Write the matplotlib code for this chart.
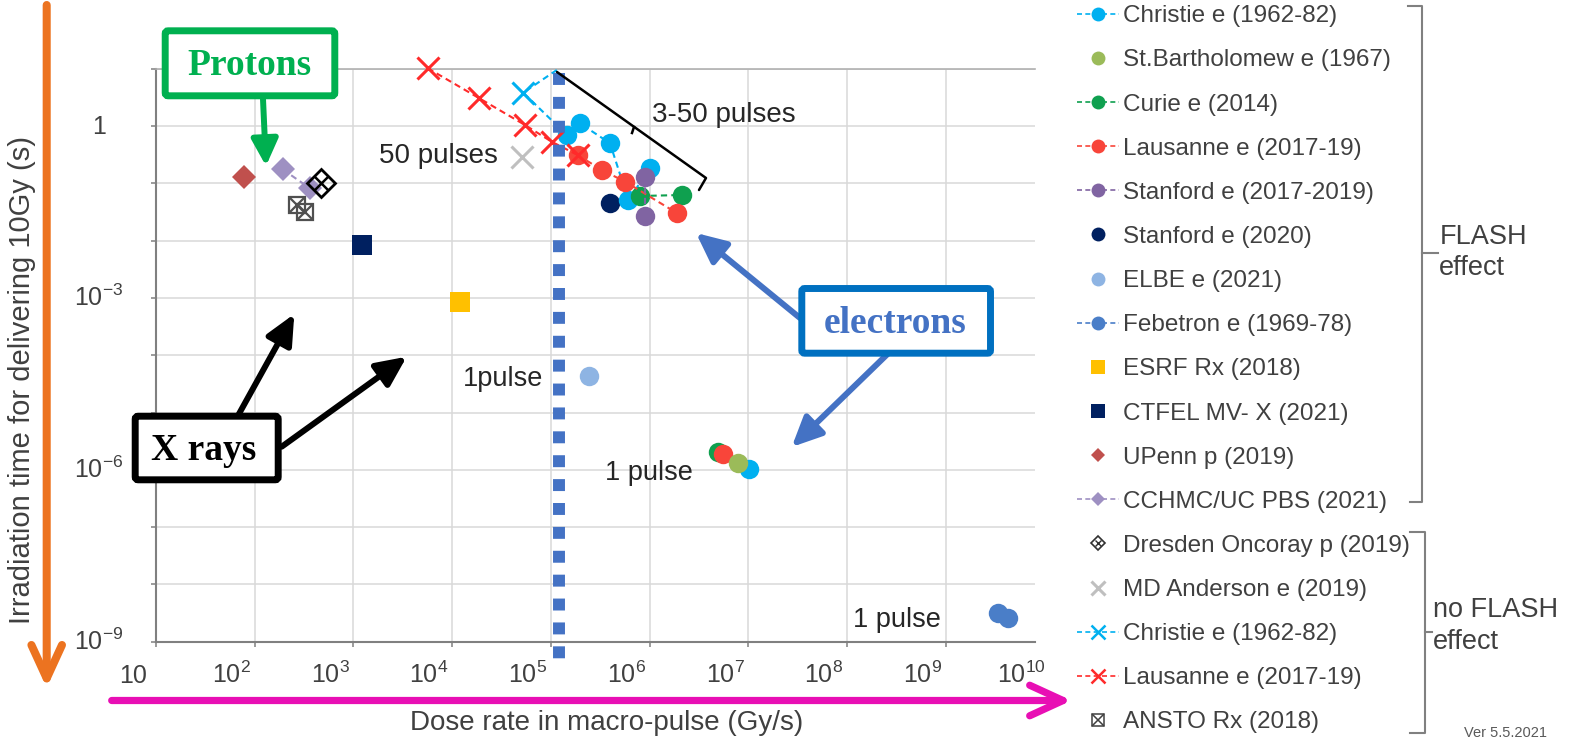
import matplotlib
matplotlib.use('Agg')
import matplotlib.pyplot as plt
from matplotlib.lines import Line2D
from matplotlib.patches import FancyBboxPatch
from matplotlib.ticker import NullLocator
from matplotlib.transforms import ScaledTranslation, blended_transform_factory

plt.rcParams['font.family'] = ['Liberation Sans', 'DejaVu Sans']
plt.rcParams['mathtext.default'] = 'regular'

# ---------------- data ----------------
christie_x = [1.45e5, 1.98e5, 3.98e5, 6.1e5, 1.01e6]
christie_y = [0.70, 1.11, 0.50, 0.051, 0.183]
christie_1p_x = [1.03e7]
christie_1p_y = [1.02e-6]
stbart_x = [7.94e6]
stbart_y = [1.33e-6]
curie_x = [8.02e5, 2.12e6]
curie_y = [0.060, 0.0625]
curie_1p_x = [4.98e6]
curie_1p_y = [2.07e-6]
lausanne_x = [1.87e5, 3.28e5, 5.65e5, 1.89e6]
lausanne_y = [0.312, 0.171, 0.107, 0.0303]
lausanne_1p_x = [5.52e6]
lausanne_1p_y = [1.89e-6]
stanford_x = [9.0e5, 9.0e5]
stanford_y = [0.127, 0.0269]
stanford20_x = [3.98e5]
stanford20_y = [0.0458]
elbe_x = [2.45e5]
elbe_y = [4.34e-5]
febetron_x = [3.42e9, 4.32e9]
febetron_y = [3.13e-9, 2.56e-9]
esrf_x = [1.2e4]
esrf_y = [8.59e-4]
ctfel_x = [1230]
ctfel_y = [8.38e-3]
upenn_x = [78.5]
upenn_y = [0.130]
cchmc_x = [192, 363]
cchmc_y = [0.175, 0.0818]
dresden_x = [470]
dresden_y = [0.102]
mda_x = [5.07e4]
mda_y = [0.291]
christie_nf_x = [1.15e5, 5.26e4, 1.45e5]
christie_nf_y = [9.5, 3.81, 0.70]
lausanne_nf_x = [5.66e3, 1.89e4, 5.48e4, 1.02e5, 1.87e5]
lausanne_nf_y = [10.2, 3.04, 1.04, 0.532, 0.312]
ansto_x = [267, 324]
ansto_y = [0.0418, 0.0319]
flash_threshold_x = 1.2e5

x_tick_vals = [1e1, 1e2, 1e3, 1e4, 1e5, 1e6, 1e7, 1e8, 1e9, 1e10]
x_tick_labels = ['10', '10$^{2}$', '10$^{3}$', '10$^{4}$', '10$^{5}$', '10$^{6}$',
                 '10$^{7}$', '10$^{8}$', '10$^{9}$', '10$^{10}$']
y_grid_vals = [1e1, 1, 1e-1, 1e-2, 1e-3, 1e-4, 1e-5, 1e-6, 1e-7, 1e-8, 1e-9]
y_label_vals = [1, 1e-3, 1e-6, 1e-9]
y_tick_labels = ['1', '10$^{-3}$', '10$^{-6}$', '10$^{-9}$']

legend_labels = ["Christie e (1962-82)", "St.Bartholomew e (1967)", "Curie e (2014)",
                 "Lausanne e (2017-19)", "Stanford e (2017-2019)", "Stanford e (2020)",
                 "ELBE e (2021)", "Febetron e (1969-78)", "ESRF Rx (2018)",
                 "CTFEL MV- X (2021)", "UPenn p (2019)", "CCHMC/UC PBS (2021)",
                 "Dresden Oncoray p (2019)", "MD Anderson e (2019)", "Christie e (1962-82)",
                 "Lausanne e (2017-19)", "ANSTO Rx (2018)"]

# ---------------- colours ----------------
C_CHR = '#00B0F0'; C_BAR = '#9BBB59'; C_CUR = '#0FA04F'; C_LAU = '#F8453A'
C_STA = '#8064A2'; C_S20 = '#002060'; C_ELB = '#8EB4E3'; C_FEB = '#4A7EC8'
C_ESR = '#FFC000'; C_CTF = '#002060'; C_UPE = '#C0504D'; C_CCH = '#9E90C2'
C_MDA = '#BFBFBF'; C_LAUX = '#FF2A2A'; C_GRAY = '#404040'

W, H, DPI = 1576, 746, 100
AX_L, AX_R, AX_T, AX_B = 156, 1035, 68.7, 641.7
DEC_X = 98.7

fig = plt.figure(figsize=(W / DPI, H / DPI), dpi=DPI)
ax = fig.add_axes([AX_L / W, 1 - AX_B / H, (AX_R - AX_L) / W, (AX_B - AX_T) / H])
ax.set_xscale('log')
ax.set_yscale('log')
ax.set_xlim(10, 10 ** (1 + (AX_R - AX_L) / DEC_X))
ax.set_ylim(1e-9, 10)
ax.set_xticks(x_tick_vals[:-1])
ax.set_yticks(y_grid_vals)
ax.xaxis.set_minor_locator(NullLocator())
ax.yaxis.set_minor_locator(NullLocator())
ax.set_xticklabels([])
ax.set_yticklabels([])
ax.tick_params(direction='out', length=3.6, width=1.1, color='#808080')
ax.grid(True, color='#D9D9D9', lw=1.1)
ax.set_axisbelow(True)
for s in ['left', 'bottom']:
    ax.spines[s].set_color('#808080')
    ax.spines[s].set_linewidth(1.5)
ax.spines['right'].set_visible(False)
ax.spines['top'].set_color('#B0B0B0')
ax.spines['top'].set_linewidth(1.2)

bt = blended_transform_factory(ax.transData, ax.transAxes)
xoff = ScaledTranslation(-23 / DPI, -41 / DPI, fig.dpi_scale_trans)
for v, s in zip(x_tick_vals, x_tick_labels):
    ax.text(v, 0, s, transform=bt + xoff, ha='center', va='baseline',
            fontsize=18, color=C_GRAY, clip_on=False)
bty = blended_transform_factory(ax.transAxes, ax.transData)
yoff = ScaledTranslation(-57 / DPI, -8.5 / DPI, fig.dpi_scale_trans)
for v, s in zip(y_label_vals, y_tick_labels):
    ax.text(0, v, s, transform=bty + yoff, ha='center', va='baseline',
            fontsize=18, color=C_GRAY, clip_on=False)

DASH = (0, (3, 2))


def series(x, y, color, marker='o', ms=14, dashed=True, z=3, mew=0, mfc=None, **kw):
    return ax.plot(x, y, color=color, marker=marker, markersize=ms,
                   linestyle=DASH if dashed else 'none', lw=1.5,
                   markeredgewidth=mew, markerfacecolor=mfc if mfc else color,
                   markeredgecolor=color, zorder=z, clip_on=False, **kw)


# no-FLASH lines first
series(christie_nf_x, christie_nf_y, C_CHR, marker='x', ms=16.5, mew=2.2, z=2.6, markevery=[1])
series(christie_x, christie_y, C_CHR, z=3.0)
series(christie_1p_x, christie_1p_y, C_CHR, dashed=False, z=3.0)
series(curie_x, curie_y, C_CUR, z=3.1)
series(curie_1p_x, curie_1p_y, C_CUR, dashed=False, z=3.1)
series(lausanne_x, lausanne_y, C_LAU, z=3.2)
series(lausanne_1p_x, lausanne_1p_y, C_LAU, dashed=False, z=3.2)
series(stbart_x, stbart_y, C_BAR, dashed=False, z=3.3)
series(stanford_x, stanford_y, C_STA, z=3.4)
series(stanford20_x, stanford20_y, C_S20, dashed=False, z=2.9)
series(elbe_x, elbe_y, C_ELB, dashed=False, z=3)
series(febetron_x, febetron_y, C_FEB, z=3)
series(esrf_x, esrf_y, C_ESR, marker='s', ms=15, dashed=False)
series(ctfel_x, ctfel_y, C_CTF, marker='s', ms=15, dashed=False)
series(upenn_x, upenn_y, C_UPE, marker='D', ms=12, dashed=False)
series(cchmc_x, cchmc_y, C_CCH, marker='D', ms=12, z=3)
series(dresden_x, dresden_y, 'black', marker='D', ms=14, dashed=False, mew=2.0, mfc='none', z=3.5)
series(dresden_x, dresden_y, 'black', marker='x', ms=10, dashed=False, mew=1.8, z=3.5)
series(mda_x, mda_y, C_MDA, marker='x', ms=16.5, dashed=False, mew=2.2)
series(lausanne_nf_x, lausanne_nf_y, C_LAUX, marker='x', ms=16.5, mew=2.2, z=3.6)
series(ansto_x, ansto_y, '#505050', marker='s', ms=12, dashed=False, mew=1.6, mfc='none', z=3.5)
series(ansto_x, ansto_y, '#505050', marker='x', ms=11, dashed=False, mew=1.6, z=3.5)

# FLASH threshold dotted line
ax.plot([flash_threshold_x, flash_threshold_x], [0.9925, -0.033], transform=bt,
        color='#4472C4', lw=8.6, linestyle=(0, (1, 1)), dash_capstyle='butt',
        clip_on=False, zorder=4)

# ---------------- overlay (pixel coordinates) ----------------
ov = fig.add_axes([0, 0, 1, 1])
ov.set_xlim(0, W)
ov.set_ylim(H, 0)
ov.axis('off')

TXT = '#262626'
ov.text(498.3, 163.3, '50 pulses', ha='right', va='baseline', fontsize=20, color=TXT)
ov.text(651.7, 121.7, '3-50 pulses', ha='left', va='baseline', fontsize=20, color=TXT)
ov.text(543, 386, '1pulse', ha='right', va='baseline', fontsize=19.5, color=TXT)
ov.text(605, 480, '1 pulse', ha='left', va='baseline', fontsize=19.5, color=TXT)
ov.text(853.3, 626.7, '1 pulse', ha='left', va='baseline', fontsize=19.5, color=TXT)

# bracket for 3-50 pulses
ov.plot([557, 706, 699], [72, 178, 190], color='black', lw=1.8, solid_capstyle='round')
ov.plot([634, 632], [127, 133], color='black', lw=1.8)

# axis titles
fig.text(22 / W, 1 - 380 / H, 'Irradiation time for delivering 10Gy (s)', rotation=90,
         ha='center', va='center', fontsize=21, color=C_GRAY)
ov.text(606.7, 730, 'Dose rate in macro-pulse (Gy/s)', ha='center', va='baseline',
        fontsize=20, color=C_GRAY)

# big arrows
ov.annotate('', xy=(46.7, 688), xytext=(46.7, 5),
            arrowprops=dict(arrowstyle='->,head_length=1.2,head_width=0.55', lw=5.8,
                            color='#EC7320', mutation_scale=20, shrinkA=0, shrinkB=0))
ov.annotate('', xy=(1071.7, 700.5), xytext=(111.7, 700.5),
            arrowprops=dict(arrowstyle='->,head_length=1.2,head_width=0.55', lw=5.2,
                            color='#E80FB4', mutation_scale=20, shrinkA=0, shrinkB=0))


def box(x0, y0, x1, y1, ec):
    ov.add_patch(FancyBboxPatch((x0, y0), x1 - x0, y1 - y0,
                                boxstyle='round,pad=0,rounding_size=3', fc='white',
                                ec=ec, lw=5, zorder=6))


def arrow(start, tip, color, hl=0.9, hw=0.42, lw=4.3):
    ov.annotate('', xy=tip, xytext=start, zorder=5,
                arrowprops=dict(arrowstyle=f'-|>,head_length={hl},head_width={hw}', lw=lw,
                                color=color, mutation_scale=20, shrinkA=0, shrinkB=0))


SERIF = ['Liberation Serif', 'DejaVu Serif']
# Protons
arrow((263, 99), (266, 166), '#00B050', hl=0.8, hw=0.4)
box(165.2, 30.8, 334.8, 95.8, '#00B050')
ov.text(249, 75, 'Protons', ha='center', va='baseline', fontsize=27, fontweight='bold',
        family=SERIF, color='#00B050', zorder=7)
# electrons
arrow((800, 318), (696, 233), '#4472C4')
arrow((891.7, 350), (791.7, 447), '#4472C4')
box(801.8, 288.5, 990.5, 353.2, '#0070C0')
ov.text(895, 333.3, 'electrons', ha='center', va='baseline', fontsize=27, fontweight='bold',
        family=SERIF, color='#4472C4', zorder=7)
# X rays
arrow((236.7, 418), (294.3, 314), 'black')
arrow((281.7, 446.7), (406.7, 356.7), 'black')
box(135.2, 416.2, 278.2, 479.8, 'black')
ov.text(204, 460, 'X rays', ha='center', va='baseline', fontsize=27, fontweight='bold',
        family=SERIF, color='black', zorder=7)

# ---------------- legend ----------------


def mk(color, marker, ms, dashed, mew=0.0, mfc=None, lw=1.2):
    return Line2D([], [], color=color, marker=marker, markersize=ms,
                  linestyle=DASH if dashed else 'none', lw=lw, markeredgewidth=mew,
                  markerfacecolor=mfc if mfc else color, markeredgecolor=color)


handles = [
    mk(C_CHR, 'o', 10, True), mk(C_BAR, 'o', 10, False), mk(C_CUR, 'o', 10, True),
    mk(C_LAU, 'o', 10, True), mk(C_STA, 'o', 10, True), mk(C_S20, 'o', 10, False),
    mk(C_ELB, 'o', 10, False), mk(C_FEB, 'o', 10, True), mk(C_ESR, 's', 10, False),
    mk(C_CTF, 's', 10, False), mk(C_UPE, 'D', 7, False), mk(C_CCH, 'D', 7, True),
    (mk('#303030', 'D', 7, False, mew=1.2, mfc='none'), mk('#303030', 'x', 4.5, False, mew=1.0)),
    mk(C_MDA, 'x', 10, False, mew=2.2),
    mk(C_CHR, 'x', 10, True, mew=1.8), mk(C_LAUX, 'x', 10, True, mew=1.8),
    (mk('#404040', 's', 9, False, mew=1.1, mfc='none'), mk('#404040', 'x', 8, False, mew=1.1)),
]
fig.legend(handles, legend_labels, loc='upper left', bbox_to_anchor=(1076.7 / W, 1 - 5.3 / H),
           frameon=False, fontsize=17.5, labelcolor=C_GRAY, labelspacing=0.91,
           handlelength=1.76, handletextpad=0.15, borderpad=0, borderaxespad=0)

# group brackets
BR = '#808080'
ov.plot([1408, 1421.7, 1421.7, 1410], [6, 6, 501.7, 501.7], color=BR, lw=1.5)
ov.plot([1421.7, 1437.7], [253.3, 253.3], color=BR, lw=1.5)
ov.plot([1410, 1425, 1425, 1410], [531.7, 531.7, 733.3, 733.3], color=BR, lw=1.5)
ov.plot([1425, 1432], [631.7, 631.7], color=BR, lw=1.5)
ov.text(1439.3, 236.7, 'FLASH', ha='left', va='center', fontsize=19.5, color=C_GRAY)
ov.text(1439.3, 268.3, 'effect', ha='left', va='center', fontsize=19.5, color=C_GRAY)
ov.text(1433.3, 610, 'no FLASH', ha='left', va='center', fontsize=19.5, color=C_GRAY)
ov.text(1433.3, 641.7, 'effect', ha='left', va='center', fontsize=19.5, color=C_GRAY)
ov.text(1506, 733, 'Ver 5.5.2021', ha='center', va='center', fontsize=10.5, color='#595959')

fig.savefig('out.png', dpi=DPI)
